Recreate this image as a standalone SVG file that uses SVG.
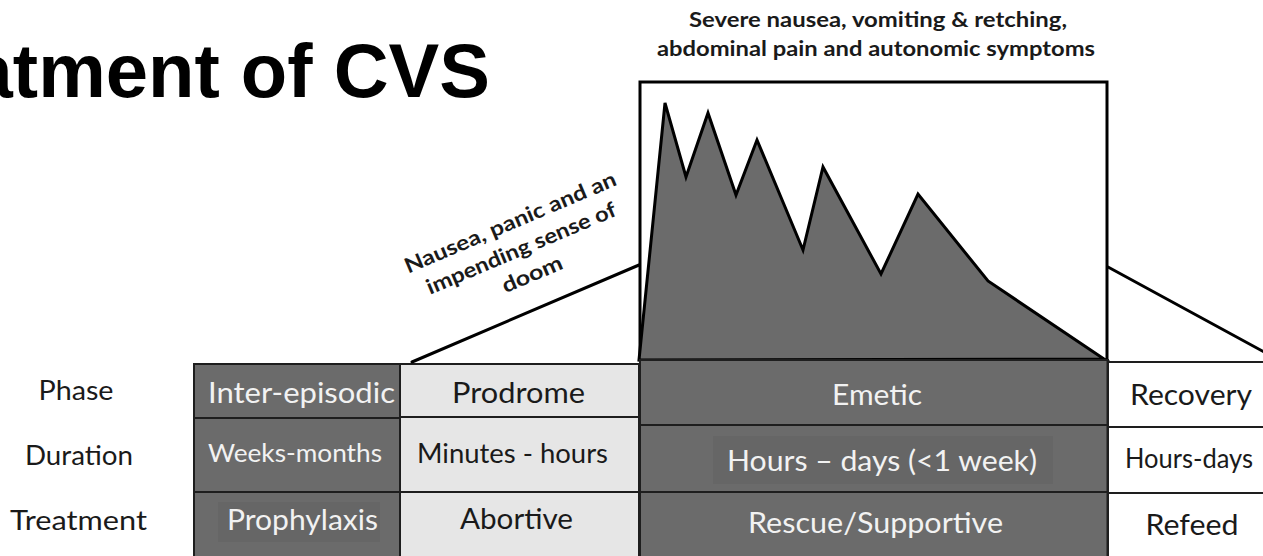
<svg xmlns="http://www.w3.org/2000/svg" width="1263" height="556" viewBox="0 0 1263 556">
  <style>
    .title { font-family: "Liberation Sans", Arial, sans-serif; font-weight: bold; font-size: 76px; fill: #000; }
    .lbl { font-family: Lato, "Open Sans", sans-serif; fill: #1a1a1a; text-anchor: middle; }
    .hdr { font-family: Lato, "Open Sans", sans-serif; font-weight: bold; fill: #1a1a1a; text-anchor: middle; font-size: 21px; }
    .inv { fill: #f2f2f2; }
    .dark { fill: #6b6b6b; stroke: #1e1e1e; stroke-width: 2; }
    .light { fill: #e6e6e6; stroke: #1e1e1e; stroke-width: 2; }
    .white { fill: #ffffff; stroke: #1e1e1e; stroke-width: 2; }
    .tbg { fill: #666666; }
    .conn { stroke: #000; stroke-width: 3; fill: none; stroke-linecap: round; }
  </style>

  <rect width="1263" height="556" fill="#ffffff"/>

  <!-- heading (runs off the left edge) -->
  <g id="title">
    <text class="title" x="490" y="97" text-anchor="end">Treatment of CVS</text>
  </g>

  <!-- caption above the emetic box -->
  <g id="emetic-caption">
    <text class="hdr" x="878" y="27" textLength="378" lengthAdjust="spacingAndGlyphs">Severe nausea, vomiting &amp; retching,</text>
    <text class="hdr" x="876" y="56" textLength="438" lengthAdjust="spacingAndGlyphs">abdominal pain and autonomic symptoms</text>
  </g>

  <!-- slanted prodrome caption -->
  <g id="prodrome-caption" transform="translate(524,255) rotate(-23)">
    <text class="hdr" x="0" y="-28" font-size="23" textLength="228" lengthAdjust="spacingAndGlyphs">Nausea, panic and an</text>
    <text class="hdr" x="0" y="0" font-size="23" textLength="204" lengthAdjust="spacingAndGlyphs">impending sense of</text>
    <text class="hdr" x="0" y="28" font-size="23" textLength="64" lengthAdjust="spacingAndGlyphs">doom</text>
  </g>

  <!-- emetic symptom chart -->
  <g id="emetic-chart">
    <rect x="640" y="82" width="467" height="278" fill="#ffffff" stroke="#000" stroke-width="3"/>
    <polygon points="639,360 665,103 686,177 708,113 736,195 757,140 803,250 823,167 881,274 918,194 988,281 1104,359"
             fill="#6b6b6b" stroke="#000" stroke-width="3" stroke-linejoin="miter"/>
  </g>

  <!-- row headings -->
  <g id="row-phase"><text class="lbl" x="76" y="400" font-size="26" textLength="75" lengthAdjust="spacingAndGlyphs">Phase</text></g>
  <g id="row-duration"><text class="lbl" x="79" y="465" font-size="26" textLength="108" lengthAdjust="spacingAndGlyphs">Duration</text></g>
  <g id="row-treatment"><text class="lbl" x="78.5" y="530" font-size="26" textLength="137" lengthAdjust="spacingAndGlyphs">Treatment</text></g>

  <!-- inter-episodic column -->
  <g id="inter-episodic">
    <rect class="dark" x="194" y="364" width="206" height="54"/>
    <text class="lbl inv" x="301.5" y="403" font-size="29" textLength="187" lengthAdjust="spacingAndGlyphs">Inter-episodic</text>
  </g>
  <g id="inter-duration">
    <rect class="dark" x="194" y="418" width="206" height="74"/>
    <text class="lbl inv" x="295" y="462" font-size="25" textLength="174" lengthAdjust="spacingAndGlyphs">Weeks-months</text>
  </g>
  <g id="inter-treatment">
    <rect class="dark" x="194" y="492" width="206" height="70"/>
    <rect class="tbg" x="218" y="502" width="162" height="40"/>
    <text class="lbl inv" x="302.5" y="530" font-size="29" textLength="151" lengthAdjust="spacingAndGlyphs">Prophylaxis</text>
  </g>

  <!-- prodrome column -->
  <g id="prodrome">
    <rect class="light" x="400" y="364" width="239" height="53"/>
    <text class="lbl" x="518.5" y="403" font-size="29" textLength="133" lengthAdjust="spacingAndGlyphs">Prodrome</text>
  </g>
  <g id="prodrome-duration">
    <rect class="light" x="400" y="417" width="239" height="75"/>
    <text class="lbl" x="512.5" y="463" font-size="27" textLength="191" lengthAdjust="spacingAndGlyphs">Minutes - hours</text>
  </g>
  <g id="prodrome-treatment">
    <rect class="light" x="400" y="492" width="239" height="70"/>
    <text class="lbl" x="516.5" y="529" font-size="29" textLength="113" lengthAdjust="spacingAndGlyphs">Abortive</text>
  </g>

  <!-- emetic column -->
  <g id="emetic">
    <rect class="dark" x="640" y="360" width="468" height="65"/>
    <text class="lbl inv" x="877" y="405" font-size="29" textLength="90" lengthAdjust="spacingAndGlyphs">Emetic</text>
  </g>
  <g id="emetic-duration">
    <rect class="dark" x="640" y="425" width="468" height="67"/>
    <rect class="tbg" x="713" y="436" width="340" height="48"/>
    <text class="lbl inv" x="882" y="471" font-size="29" textLength="310" lengthAdjust="spacingAndGlyphs">Hours – days (&lt;1 week)</text>
  </g>
  <g id="emetic-treatment">
    <rect class="dark" x="640" y="492" width="468" height="70"/>
    <text class="lbl inv" x="875.5" y="533" font-size="29" textLength="255" lengthAdjust="spacingAndGlyphs">Rescue/Supportive</text>
  </g>
  <line x1="1108" y1="360" x2="1108" y2="556" stroke="#1e1e1e" stroke-width="3"/>

  <!-- recovery column -->
  <g id="recovery">
    <rect class="white" x="1108" y="362" width="170" height="65"/>
    <text class="lbl" x="1191" y="405" font-size="29" textLength="122" lengthAdjust="spacingAndGlyphs">Recovery</text>
  </g>
  <g id="recovery-duration">
    <rect class="white" x="1108" y="427" width="170" height="66"/>
    <text class="lbl" x="1189" y="468" font-size="26" textLength="128" lengthAdjust="spacingAndGlyphs">Hours-days</text>
  </g>
  <g id="recovery-treatment">
    <rect class="white" x="1108" y="493" width="170" height="70"/>
    <text class="lbl" x="1192" y="535" font-size="29" textLength="93" lengthAdjust="spacingAndGlyphs">Refeed</text>
  </g>

  <!-- connectors from the table up to the symptom chart -->
  <g id="connectors">
    <line class="conn" x1="412" y1="362" x2="639" y2="265"/>
    <line class="conn" x1="1108" y1="267" x2="1266" y2="353" stroke-width="2.5"/>
  </g>
</svg>
